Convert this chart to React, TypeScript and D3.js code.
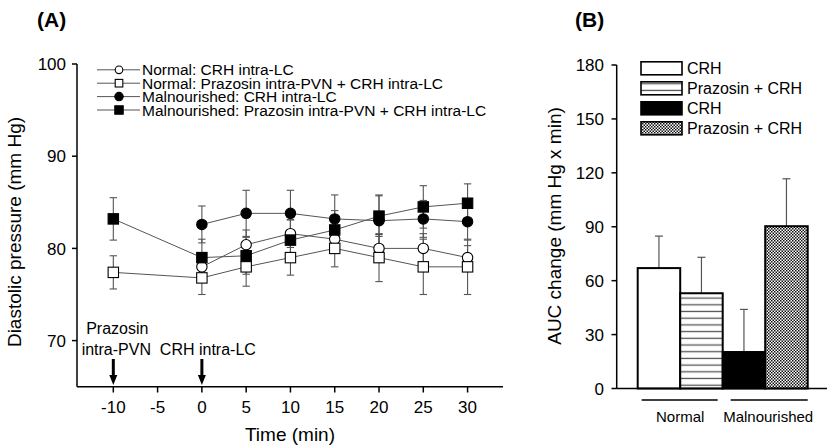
import React from "react";
import * as d3 from "d3";

// ---------- Panel A data ----------
const times = [-10, 0, 5, 10, 15, 20, 25, 30];
const normalCRH = [null, 78.0, 80.4, 81.6, 81.0, 80.0, 80.0, 79.0];
const normalCRHErr = [null, 1.5, 1.6, 1.5, 1.3, 1.5, 1.6, 1.3];
const normalPraz = [77.4, 76.8, 78.0, 79.0, 80.0, 79.0, 78.0, 78.0];
const normalPrazErr = [1.8, 1.8, 2.1, 1.9, 2.0, 2.6, 3.0, 3.0];
const malCRH = [null, 82.6, 83.8, 83.8, 83.2, 83.0, 83.2, 82.9];
const malCRHErr = [null, 2.0, 2.5, 2.5, 2.6, 2.8, 2.0, 2.0];
const malPraz = [83.2, 79.0, 79.2, 80.9, 82.0, 83.5, 84.5, 84.9];
const malPrazErr = [2.3, 2.0, 2.0, 2.2, 2.1, 2.2, 2.3, 2.1];
const seriesLabels = [
  "Normal: CRH intra-LC",
  "Normal: Prazosin intra-PVN + CRH intra-LC",
  "Malnourished: CRH intra-LC",
  "Malnourished: Prazosin intra-PVN + CRH intra-LC",
];
const xTicksA = [-10, -5, 0, 5, 10, 15, 20, 25, 30];
const yTicksA = [70, 80, 90, 100];
const arrowTimes = [-10, 0];

// ---------- Panel B data ----------
const barLabels = ["CRH", "Prazosin + CRH", "CRH", "Prazosin + CRH"];
const barValues = [67, 53, 20.3, 90.3];
const barErrors = [17.8, 20, 23.7, 26.4];
const groups = ["Normal", "Malnourished"];
const yTicksB = [0, 30, 60, 90, 120, 150, 180];

const FONT = "'Liberation Sans', Arial, Helvetica, sans-serif";

type Series = {
  vals: (number | null)[];
  errs: (number | null)[];
  shape: "circle" | "square";
  filled: boolean;
};

const series: Series[] = [
  { vals: normalCRH, errs: normalCRHErr, shape: "circle", filled: false },
  { vals: normalPraz, errs: normalPrazErr, shape: "square", filled: false },
  { vals: malCRH, errs: malCRHErr, shape: "circle", filled: true },
  { vals: malPraz, errs: malPrazErr, shape: "square", filled: true },
];

function Marker({ x, y, shape, filled, size }: any) {
  const fill = filled ? "#000" : "#fff";
  if (shape === "circle")
    return <circle cx={x} cy={y} r={size} fill={fill} stroke="#000" strokeWidth={1.1} />;
  return (
    <rect x={x - size} y={y - size} width={size * 2} height={size * 2} fill={fill} stroke="#000" strokeWidth={1.1} />
  );
}

export default function App() {
  // Panel A scales
  const xA = d3.scaleLinear().domain([-14.1, 34]).range([77, 503]);
  const yA = d3.scaleLinear().domain([65, 100]).range([386.7, 64]);
  // Panel B scales
  const yB = d3.scaleLinear().domain([0, 180]).range([388.5, 65]);
  const xB = d3
    .scaleBand<number>()
    .domain(barValues.map((_, i) => i))
    .range([637.7, 807.7])
    .padding(0);
  const bw = xB.bandwidth();

  const lineGen = d3
    .line<number | null>()
    .defined((d) => d !== null)
    .x((_, i) => xA(times[i]))
    .y((d) => yA(d as number));

  const legendRowsA = seriesLabels.map((_, i) => 69.8 + i * 13.4);
  const legendRowsB = barLabels.map((_, i) => 68.3 + i * 20);
  const barFills = ["#fff", "url(#hlines)", "#000", "url(#xhatch)"];

  const groupLineOffsets = [
    [4, -5],
    [8, 0],
  ];

  return (
    <svg
      width={827}
      height={447}
      style={{ position: "absolute", left: 0, top: 0, background: "#fff" }}
      fontFamily={FONT}
    >
      <defs>
        <pattern id="hlines" patternUnits="userSpaceOnUse" width={8} height={6.7}>
          <rect width={8} height={6.7} fill="#fff" />
          <line x1={0} x2={8} y1={3.3} y2={3.3} stroke="#555" strokeWidth={1.3} />
        </pattern>
        <pattern id="xhatch" patternUnits="userSpaceOnUse" width={3} height={3}>
          <rect width={3} height={3} fill="#fff" />
          <rect width={1.5} height={1.5} fill="#111" />
          <rect x={1.5} y={1.5} width={1.5} height={1.5} fill="#111" />
        </pattern>
      </defs>
      <rect width={827} height={447} fill="#fff" />

      {/* Panel labels */}
      <text x={37} y={27} fontSize={21} fontWeight="bold">(A)</text>
      <text x={575} y={27} fontSize={21} fontWeight="bold">(B)</text>

      {/* ================= Panel A ================= */}
      <line x1={xA.range()[0]} x2={xA.range()[0]} y1={yA.range()[1]} y2={yA.range()[0]} stroke="#000" strokeWidth={1.5} />
      <line x1={xA.range()[0]} x2={xA.range()[1]} y1={yA.range()[0]} y2={yA.range()[0]} stroke="#000" strokeWidth={1.5} />
      {yTicksA.map((t) => (
        <g key={"ya" + t}>
          <line x1={72} x2={77} y1={yA(t)} y2={yA(t)} stroke="#000" strokeWidth={1.5} />
          <text x={66} y={yA(t)} dy="0.36em" fontSize={17} textAnchor="end">{t}</text>
        </g>
      ))}
      {xTicksA.map((t) => (
        <g key={"xa" + t}>
          <line x1={xA(t)} x2={xA(t)} y1={386.7} y2={392.5} stroke="#000" strokeWidth={1.5} />
          <text x={xA(t)} y={413} fontSize={17} textAnchor="middle">{t}</text>
        </g>
      ))}
      <text x={290} y={441} fontSize={19} textAnchor="middle">Time (min)</text>
      <text transform="translate(21,232) rotate(-90)" fontSize={19} textAnchor="middle">
        Diastolic pressure (mm Hg)
      </text>

      {/* arrows */}
      {arrowTimes.map((t) => (
        <g key={"ar" + t}>
          <line x1={xA(t)} x2={xA(t)} y1={359} y2={377} stroke="#000" strokeWidth={3} />
          <path d={`M${xA(t) - 4},${375} L${xA(t) + 4},${375} L${xA(t)},${385} Z`} fill="#000" />
        </g>
      ))}
      <text x={xA(-10) + 4} y={334} fontSize={16} textAnchor="middle">Prazosin</text>
      <text x={xA(-10) + 3} y={355} fontSize={16} textAnchor="middle">intra-PVN</text>
      <text x={xA(0) + 6} y={355} fontSize={16} textAnchor="middle">CRH intra-LC</text>

      {/* error bars */}
      {series.map((s, si) =>
        s.vals.map((v, i) => {
          if (v === null) return null;
          const e = s.errs[i] as number;
          const x = xA(times[i]);
          return (
            <g key={`eb${si}-${i}`} stroke="#555" strokeWidth={1.1}>
              <line x1={x} x2={x} y1={yA(v - e)} y2={yA(v + e)} />
              <line x1={x - 3.7} x2={x + 3.7} y1={yA(v - e)} y2={yA(v - e)} />
              <line x1={x - 3.7} x2={x + 3.7} y1={yA(v + e)} y2={yA(v + e)} />
            </g>
          );
        })
      )}
      {/* lines */}
      {series.map((s, si) => (
        <path key={"ln" + si} d={lineGen(s.vals) || ""} fill="none" stroke="#555" strokeWidth={1} />
      ))}
      {/* markers */}
      {series.map((s, si) =>
        s.vals.map((v, i) =>
          v === null ? null : (
            <Marker key={`mk${si}-${i}`} x={xA(times[i])} y={yA(v)} shape={s.shape} filled={s.filled} size={5.2} />
          )
        )
      )}

      {/* legend A */}
      {series.map((s, i) => (
        <g key={"lga" + i}>
          <line x1={97} x2={140} y1={legendRowsA[i]} y2={legendRowsA[i]} stroke="#555" strokeWidth={1} />
          <Marker x={119} y={legendRowsA[i]} shape={s.shape} filled={s.filled} size={s.filled ? 4.2 : 3.8} />
          <text x={142} y={legendRowsA[i]} dy="0.36em" fontSize={15.5}>{seriesLabels[i]}</text>
        </g>
      ))}

      {/* ================= Panel B ================= */}
      {barValues.map((v, i) => {
        const x0 = xB(i) as number;
        const cx = x0 + bw / 2;
        return (
          <g key={"bar" + i}>
            <line x1={cx} x2={cx} y1={yB(v)} y2={yB(v + barErrors[i])} stroke="#555" strokeWidth={1.2} />
            <line x1={cx - 4} x2={cx + 4} y1={yB(v + barErrors[i])} y2={yB(v + barErrors[i])} stroke="#555" strokeWidth={1.2} />
            <rect x={x0} y={yB(v)} width={bw} height={yB(0) - yB(v)} fill={barFills[i]} stroke="#000" strokeWidth={2} />
          </g>
        );
      })}
      <line x1={616.7} x2={616.7} y1={yB(180)} y2={yB(0)} stroke="#000" strokeWidth={1.5} />
      <line x1={616.7} x2={827} y1={yB(0)} y2={yB(0)} stroke="#000" strokeWidth={1.5} />
      {yTicksB.map((t) => (
        <g key={"yb" + t}>
          <line x1={611.5} x2={616.7} y1={yB(t)} y2={yB(t)} stroke="#000" strokeWidth={1.5} />
          <text x={604} y={yB(t)} dy="0.36em" fontSize={17} textAnchor="end">{t}</text>
        </g>
      ))}
      <text transform="translate(561,226) rotate(-90)" fontSize={19} textAnchor="middle">
        AUC change (mm Hg x min)
      </text>
      {groups.map((g, gi) => {
        const x1 = (xB(gi * 2) as number) + groupLineOffsets[gi][0];
        const x2 = (xB(gi * 2 + 1) as number) + bw + groupLineOffsets[gi][1];
        const cx = gi === 0 ? (xB(0) as number) + bw : (x1 + x2) / 2 - 1;
        return (
          <g key={"grp" + g}>
            <line x1={x1} x2={x2} y1={400} y2={400} stroke="#000" strokeWidth={1.3} />
            <text x={cx} y={422} fontSize={15} textAnchor="middle">{g}</text>
          </g>
        );
      })}

      {/* legend B */}
      {barLabels.map((l, i) => (
        <g key={"lgb" + i}>
          <rect x={641} y={legendRowsB[i] - 6.5} width={41} height={13} fill={barFills[i]} stroke="#000" strokeWidth={1.6} />
          <text x={687} y={legendRowsB[i]} dy="0.36em" fontSize={16}>{l}</text>
        </g>
      ))}
    </svg>
  );
}
